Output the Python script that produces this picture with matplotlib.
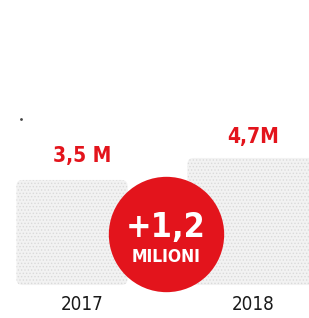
import matplotlib.pyplot as plt
from matplotlib.patches import FancyBboxPatch

# data
years = ['2017', '2018']
users = [3.5, 4.7]            # millions
value_labels = ['3,5 M', '4,7M']
diff_label = '+1,2'
diff_unit = 'MILIONI'

red = '#e3141c'
bar_face = '#f2f2f2'
base = -2.23                  # where the bars start
narrow = ['DejaVu Sans']

plt.rcParams['hatch.linewidth'] = 0.6
plt.rcParams['hatch.color'] = '#d9d9d9'

fig = plt.figure(figsize=(3.09, 3.18), dpi=100)
ax = fig.add_axes([0, 0, 1, 1])
ax.set_xlim(-0.421, 1.386)
ax.set_ylim(-4.03, 13.32)
ax.axis('off')

x = range(len(years))
bars = ax.bar(x, [v - base for v in users], bottom=base, width=[0.65, 0.8],
              align='edge', color=bar_face)

# give the bars rounded tops
for b in bars:
    x0 = b.get_x() - 0.325
    rp = FancyBboxPatch((x0, b.get_y()), b.get_width(), b.get_height(),
                        boxstyle='round,pad=0,rounding_size=0.035',
                        mutation_aspect=9.33, facecolor=bar_face,
                        edgecolor='#dadada', linewidth=0, hatch='.....',
                        zorder=1)
    ax.add_patch(rp)
    b.set_visible(False)

# value labels over the bars, years under them
for i, (v, lab) in enumerate(zip(users, value_labels)):
    ax.annotate(lab, (i + 0.06, v), xytext=(0, 13 if i == 0 else 11),
                textcoords='offset points', ha='center', va='baseline',
                color=red, fontsize=15, fontweight='heavy', family=narrow,
                fontstretch='condensed')
    ax.annotate(years[i], (i + 0.06, base), xytext=(0, -18),
                textcoords='offset points', ha='center', va='baseline',
                color='#1a1a1a', fontsize=13.5, family=narrow,
                fontstretch='condensed')

# red circle with the difference
ax.scatter([0.55], [0.55], s=6900, color=red, zorder=3, linewidths=0)
ax.annotate(diff_label, (0.55, 0.55), xytext=(0, -2), textcoords='offset points',
            ha='center', va='baseline', color='white', fontsize=24.5,
            fontweight='bold', family=narrow, fontstretch='condensed', zorder=4)
ax.annotate(diff_unit, (0.55, 0.55), xytext=(0, -20), textcoords='offset points',
            ha='center', va='baseline', color='white', fontsize=12.5,
            fontweight='bold', family=narrow, fontstretch='condensed', zorder=4)

# small dot in the top left
ax.scatter([-0.298], [6.83], s=4, color='#444444', linewidths=0)

plt.savefig('out.png', dpi=100)
